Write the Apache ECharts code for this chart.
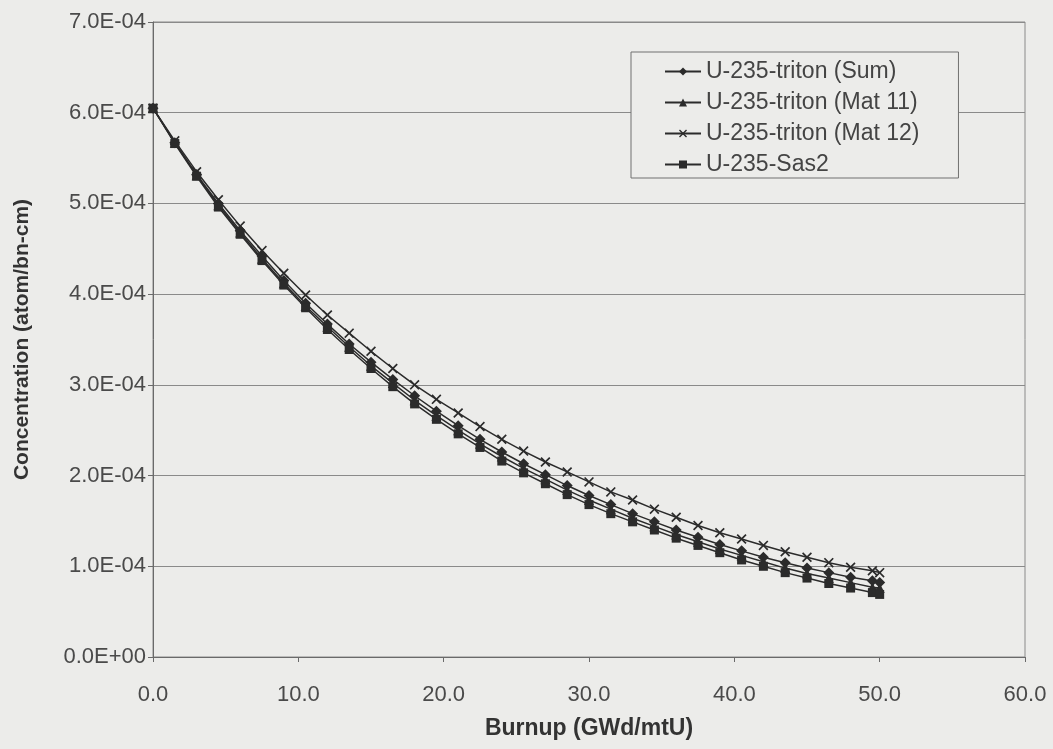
<!DOCTYPE html>
<html>
<head>
<meta charset="utf-8">
<title>U-235 concentration vs burnup</title>
<script src="https://cdn.jsdelivr.net/npm/echarts@6/dist/echarts.min.js"></script>
<style>
  html, body { margin: 0; padding: 0; background: #ececea; }
  #chart { width: 1053px; height: 749px; }
</style>
</head>
<body>
<div id="chart"></div>
<script>
// Burnup steps (GWd/mtU)
const burnup = [0.0, 1.5, 3.0, 4.5, 6.0, 7.5, 9.0, 10.5, 12.0, 13.5, 15.0, 16.5, 18.0, 19.5,
  21.0, 22.5, 24.0, 25.5, 27.0, 28.5, 30.0, 31.5, 33.0, 34.5, 36.0, 37.5, 39.0, 40.5,
  42.0, 43.5, 45.0, 46.5, 48.0, 49.5, 50.0];

// U-235 concentrations (atom/bn-cm)
const tritonSum = [6.05e-4, 5.67e-4, 5.32e-4, 5.00e-4, 4.70e-4, 4.42e-4, 4.15e-4, 3.90e-4, 3.67e-4,
  3.45e-4, 3.25e-4, 3.06e-4, 2.88e-4, 2.71e-4, 2.55e-4, 2.40e-4, 2.26e-4, 2.13e-4, 2.01e-4,
  1.89e-4, 1.78e-4, 1.68e-4, 1.58e-4, 1.49e-4, 1.40e-4, 1.32e-4, 1.24e-4, 1.17e-4, 1.10e-4,
  1.04e-4, 0.98e-4, 0.93e-4, 0.88e-4, 0.84e-4, 0.82e-4];

const tritonMat11 = [6.05e-4, 5.67e-4, 5.31e-4, 4.98e-4, 4.68e-4, 4.39e-4, 4.12e-4, 3.87e-4, 3.64e-4,
  3.42e-4, 3.21e-4, 3.02e-4, 2.83e-4, 2.66e-4, 2.50e-4, 2.35e-4, 2.21e-4, 2.08e-4, 1.96e-4,
  1.84e-4, 1.73e-4, 1.63e-4, 1.53e-4, 1.44e-4, 1.35e-4, 1.27e-4, 1.19e-4, 1.12e-4, 1.05e-4,
  0.98e-4, 0.92e-4, 0.87e-4, 0.82e-4, 0.77e-4, 0.76e-4];

const tritonMat12 = [6.05e-4, 5.69e-4, 5.35e-4, 5.04e-4, 4.75e-4, 4.48e-4, 4.23e-4, 3.99e-4, 3.77e-4,
  3.57e-4, 3.37e-4, 3.18e-4, 3.00e-4, 2.84e-4, 2.69e-4, 2.54e-4, 2.40e-4, 2.27e-4, 2.15e-4,
  2.04e-4, 1.93e-4, 1.82e-4, 1.73e-4, 1.63e-4, 1.54e-4, 1.45e-4, 1.37e-4, 1.30e-4, 1.23e-4,
  1.16e-4, 1.10e-4, 1.04e-4, 0.99e-4, 0.95e-4, 0.93e-4];

const sas2 = [6.05e-4, 5.66e-4, 5.30e-4, 4.96e-4, 4.66e-4, 4.37e-4, 4.10e-4, 3.85e-4, 3.61e-4,
  3.39e-4, 3.18e-4, 2.98e-4, 2.79e-4, 2.62e-4, 2.46e-4, 2.31e-4, 2.16e-4, 2.03e-4, 1.91e-4,
  1.79e-4, 1.68e-4, 1.58e-4, 1.49e-4, 1.40e-4, 1.31e-4, 1.23e-4, 1.15e-4, 1.07e-4, 1.00e-4,
  0.93e-4, 0.87e-4, 0.81e-4, 0.76e-4, 0.71e-4, 0.69e-4];

const seriesNames = ['U-235-triton (Sum)', 'U-235-triton (Mat 11)', 'U-235-triton (Mat 12)', 'U-235-Sas2'];

// Excel-style scientific tick labels, e.g. 7.0E-04
function sci(v) {
  if (Math.abs(v) < 1e-12) return '0.0E+00';
  const parts = v.toExponential(1).split('e');
  const n = parseInt(parts[1], 10);
  return parts[0] + 'E' + (n < 0 ? '-' : '+') + String(Math.abs(n)).padStart(2, '0');
}

function pairs(ys) {
  return burnup.map((b, i) => [b, ys[i]]);
}

const FONT = '"Liberation Sans", Arial, sans-serif';
const INK = '#2b2b2b';
const crossSymbol = 'path://M0,1.2 L1.2,0 L5,3.8 L8.8,0 L10,1.2 L6.2,5 L10,8.8 L8.8,10 L5,6.2 L1.2,10 L0,8.8 L3.8,5 Z';

function lineSeries(name, ys, symbol, size) {
  return {
    name: name,
    type: 'line',
    data: pairs(ys),
    symbol: symbol,
    symbolSize: size,
    showSymbol: true,
    smooth: false,
    animation: false,
    lineStyle: { color: INK, width: 1.5 },
    itemStyle: { color: INK, borderWidth: 0 },
    emphasis: { disabled: true }
  };
}

const chart = echarts.init(document.getElementById('chart'), null, { renderer: 'canvas' });

chart.setOption({
  backgroundColor: '#ececea',
  animation: false,
  grid: {
    left: 153, right: 28, top: 22, bottom: 92,
    containLabel: false,
    outerBoundsMode: 'none',
    show: true,
    borderColor: '#8a8a8a',
    borderWidth: 1,
    backgroundColor: 'transparent'
  },
  legend: {
    orient: 'vertical',
    left: 631,
    top: 52,
    padding: [8, 39, 2, 33],
    itemGap: 8,
    itemWidth: 36,
    itemHeight: 10,
    borderColor: '#707070',
    borderWidth: 1,
    backgroundColor: '#ececea',
    data: seriesNames,
    textStyle: { fontFamily: FONT, fontSize: 23, color: '#444', lineHeight: 23, padding: [0, 0, 0, 0] }
  },
  xAxis: {
    type: 'value',
    min: 0, max: 60, interval: 10,
    name: 'Burnup (GWd/mtU)',
    nameLocation: 'middle',
    nameGap: 60,
    nameTextStyle: { fontFamily: FONT, fontSize: 23, fontWeight: 'bold', color: '#333' },
    axisLine: { show: true, onZero: false, lineStyle: { color: '#6a6a6a', width: 1 } },
    axisTick: { show: true, inside: false, length: 5, lineStyle: { color: '#6a6a6a' } },
    axisLabel: {
      fontFamily: FONT, fontSize: 22, color: '#4a4a4a', margin: 27,
      formatter: v => v.toFixed(1)
    },
    splitLine: { show: false }
  },
  yAxis: {
    type: 'value',
    min: 0, max: 7e-4, interval: 1e-4,
    name: 'Concentration (atom/bn-cm)',
    nameLocation: 'middle',
    nameGap: 120,
    nameTextStyle: { fontFamily: FONT, fontSize: 21, fontWeight: 'bold', color: '#333' },
    axisLine: { show: true, lineStyle: { color: '#6a6a6a', width: 1 } },
    axisTick: { show: true, inside: false, length: 5, lineStyle: { color: '#6a6a6a' } },
    axisLabel: {
      fontFamily: FONT, fontSize: 22, color: '#4a4a4a', margin: 7,
      formatter: v => sci(v)
    },
    splitLine: { show: true, lineStyle: { color: '#8a8a8a', width: 1 } }
  },
  series: [
    lineSeries(seriesNames[0], tritonSum, 'diamond', 11),
    lineSeries(seriesNames[1], tritonMat11, 'triangle', 10),
    lineSeries(seriesNames[2], tritonMat12, crossSymbol, 10),
    lineSeries(seriesNames[3], sas2, 'rect', 9)
  ]
});
</script>
</body>
</html>
